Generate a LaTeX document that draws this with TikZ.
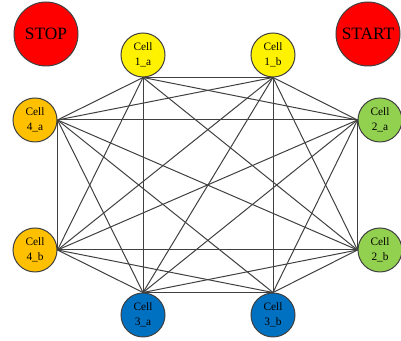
\documentclass[tikz,border=0pt]{standalone}
\usepackage{fontspec}
\setmainfont{Liberation Serif}
\begin{document}
\begin{tikzpicture}[x=0.75pt,y=-0.75pt,
  cell/.style={circle,draw=black!75,line width=0.75pt,minimum size=44*0.75pt,inner sep=0pt,font=\fontsize{8.5}{11}\selectfont,align=center},
  big/.style={circle,draw=black!75,line width=0.75pt,minimum size=64*0.75pt,inner sep=0pt,fill=red,font=\fontsize{13}{15}\selectfont},
  edge/.style={draw=black!75,line width=0.75pt}]
\useasboundingbox (0,0) rectangle (401,341);
\node[big] (stop) at (46,34) {STOP};
\node[big] (start) at (368,34) {START};
\node[cell,fill=yellow] (c1a) at (143,55) {Cell\\1\_a};
\node[cell,fill=yellow] (c1b) at (273,55) {Cell\\1\_b};
\node[cell,fill={rgb,255:red,146;green,208;blue,80}] (c2a) at (380,120) {Cell\\2\_a};
\node[cell,fill={rgb,255:red,146;green,208;blue,80}] (c2b) at (380,250) {Cell\\2\_b};
\node[cell,fill={rgb,255:red,0;green,112;blue,192}] (c3a) at (143,315) {Cell\\3\_a};
\node[cell,fill={rgb,255:red,0;green,112;blue,192}] (c3b) at (273,315) {Cell\\3\_b};
\node[cell,fill={rgb,255:red,255;green,192;blue,0}] (c4a) at (35,120) {Cell\\4\_a};
\node[cell,fill={rgb,255:red,255;green,192;blue,0}] (c4b) at (35,250) {Cell\\4\_b};
\coordinate (p1) at (c1a.south);
\coordinate (p2) at (c1b.south);
\coordinate (p3) at (c2a.west);
\coordinate (p4) at (c2b.west);
\coordinate (p5) at (c3b.north);
\coordinate (p6) at (c3a.north);
\coordinate (p7) at (c4b.east);
\coordinate (p8) at (c4a.east);
\foreach \a/\b in {1/2,1/3,1/4,1/6,1/7,1/8,
                   2/3,2/4,2/5,2/6,2/7,2/8,
                   3/4,3/5,3/6,3/7,3/8,
                   4/5,4/6,4/7,4/8,
                   5/6,5/7,5/8,
                   6/7,6/8,
                   7/8}{
  \draw[edge] (p\a) -- (p\b);
}
\end{tikzpicture}
\end{document}
